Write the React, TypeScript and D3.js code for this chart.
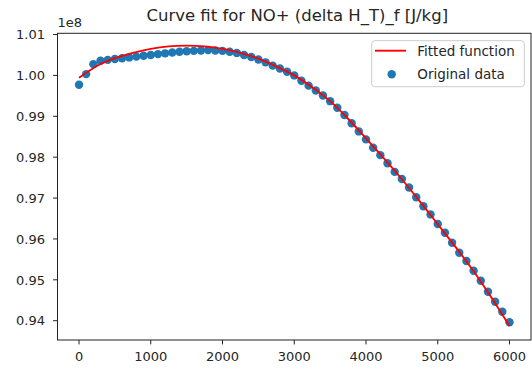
import React from "react";
import * as d3 from "d3";

// values in units of 1e8 J/kg
const xData: number[] = d3.range(0, 6001, 100);
const yData: number[] = [
  0.9977, 1.00032, 1.00276, 1.00357, 1.0038, 1.004, 1.0042, 1.0044, 1.0046, 1.0048,
  1.005, 1.0052, 1.0054, 1.0056, 1.0058, 1.0059, 1.006, 1.0061, 1.0062, 1.0061,
  1.006, 1.0058, 1.0055, 1.005, 1.0045, 1.0039, 1.0032, 1.0024, 1.0017, 1.0009,
  1.0, 0.9987, 0.9975, 0.9963, 0.9951, 0.9937, 0.9921, 0.9903, 0.9883, 0.9863,
  0.98435, 0.9823, 0.9805, 0.9785, 0.9764, 0.97465, 0.9726, 0.9702, 0.968, 0.966,
  0.96364, 0.96152, 0.95907, 0.95663, 0.9546, 0.95223, 0.94978, 0.94709, 0.94465, 0.9422,
  0.93961,
];
const fitX: number[] = [0, 250, 500, 750, 1000, 1250, 1500, 1750, 2000, 2250, 2500, 2750, 3000, 3250, 3500, 3750, 4000, 4250, 4500, 4750, 5000, 5250, 5500, 5750, 6000];
const fitY: number[] = [0.9994, 1.0023, 1.0042, 1.0055, 1.0065, 1.0071, 1.0073, 1.0071, 1.0065, 1.0055, 1.0041, 1.0022, 1.0, 0.9971, 0.9937, 0.9894, 0.9846, 0.9797, 0.9746, 0.9692, 0.9636, 0.958, 0.9521, 0.9456, 0.9387];
const xTicks: number[] = [0, 1000, 2000, 3000, 4000, 5000, 6000];
const yTicks: number[] = [0.94, 0.95, 0.96, 0.97, 0.98, 0.99, 1.0, 1.01];

const W = 532, H = 368;
const L = 57.5, R = 531, T = 33.3, B = 340;
const FONT = "DejaVu Sans, sans-serif";
const FS = 13;
const LFS = 13.5;
const TXT = "#262626";

export default function App() {
  const x = d3.scaleLinear().domain([-300, 6300]).range([L, R]);
  const y = d3.scaleLinear().domain([0.93528, 1.0103]).range([B, T]);
  const line = d3.line<[number, number]>().x(d => x(d[0])).y(d => y(d[1])).curve(d3.curveMonotoneX);
  const fitPts: [number, number][] = fitX.map((v, i) => [v, fitY[i]]);
  return (
    <svg width={W} height={H} style={{ position: "absolute", left: 0, top: 0, background: "#fff" }} fontFamily={FONT}>
      <rect x={0} y={0} width={W} height={H} fill="#fff" />
      <text x={(L + R) / 2 + 3} y={20.5} fontSize={16.5} textAnchor="middle" fill={TXT}>Curve fit for NO+ (delta H_T)_f [J/kg]</text>
      <text x={L} y={26.5} fontSize={FS} fill={TXT}>1e8</text>
      <g>
        {xData.map((xv, i) => (
          <circle key={i} cx={x(xv)} cy={y(yData[i])} r={4.2} fill="#1f77b4" />
        ))}
        <path d={line(fitPts) || ""} fill="none" stroke="#ff0000" strokeWidth={1.875} />
      </g>
      <rect x={L} y={T} width={R - L} height={B - T} fill="none" stroke="#222" strokeWidth={1} />
      {xTicks.map(t => (
        <g key={t}>
          <line x1={x(t)} x2={x(t)} y1={B} y2={B + 4.4} stroke="#222" strokeWidth={1} />
          <text x={x(t)} y={B + 21} fontSize={FS} textAnchor="middle" fill={TXT}>{t}</text>
        </g>
      ))}
      {yTicks.map(t => (
        <g key={t}>
          <line x1={L - 4.4} x2={L} y1={y(t)} y2={y(t)} stroke="#222" strokeWidth={1} />
          <text x={45} y={y(t) + 4.7} fontSize={FS} textAnchor="end" fill={TXT}>{t.toFixed(2)}</text>
        </g>
      ))}
      <g>
        <rect x={371.7} y={40.7} width={152.6} height={46} rx={3} fill="#fff" fillOpacity={0.8} stroke="#cccccc" strokeWidth={1} />
        <line x1={375} x2={406} y1={50.7} y2={50.7} stroke="#ff0000" strokeWidth={1.875} />
        <text x={417.3} y={55.8} fontSize={LFS} fill={TXT}>Fitted function</text>
        <circle cx={391.7} cy={74.3} r={4.2} fill="#1f77b4" />
        <text x={417.3} y={78.8} fontSize={LFS} fill={TXT}>Original data</text>
      </g>
    </svg>
  );
}
